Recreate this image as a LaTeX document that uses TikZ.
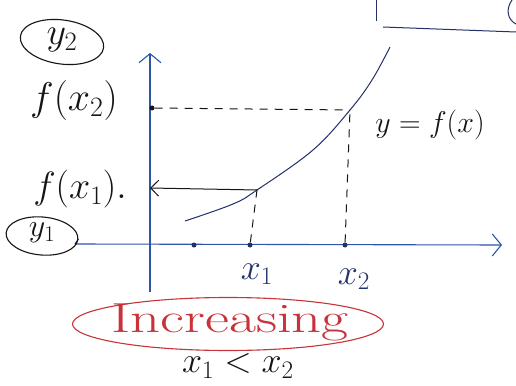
\RequirePackage{fix-cm}
\documentclass[tikz,border=0pt]{standalone}
\usetikzlibrary{arrows.meta,shapes.geometric}
\definecolor{axisblue}{HTML}{2D55A8}
\definecolor{curveblue}{HTML}{23306A}
\definecolor{inkred}{HTML}{C8333A}
\definecolor{ink}{HTML}{151515}
\tikzset{
  axis/.style={draw=axisblue, line width=1.1pt, -{Straight Barb[length=9pt,width=22pt]}},
  curve/.style={draw=curveblue, line width=1pt},
  guide/.style={draw=ink, line width=1pt, dash pattern=on 8pt off 7pt},
  label/.style={text=ink, inner sep=0pt},
  circled/.style={draw=ink, line width=1.1pt, ellipse},
  pt/.style={circle, fill=curveblue, inner sep=0pt, minimum size=5pt},
  fs/.style={font=\fontsize{#1}{#1}\selectfont},
}
\begin{document}
\begin{tikzpicture}[x=1pt,y=-1pt]
\useasboundingbox[fill=white] (0,0) rectangle (516,385);
% axes
\coordinate (ybot) at (150,292);
\coordinate (ytop) at (150,53);
\coordinate (xleft) at (75,244);
\coordinate (xright) at (502,245);
\draw[axis] (ybot) -- (ytop);
\draw[axis] (xleft) -- (xright);
% points on x axis
\node[pt] (p0) at (194,245) {};
\node[pt] (p1) at (250,245) {};
\node[pt] (p2) at (345,245) {};
\node[pt,fill=ink] (q2) at (152,108) {};
% curve
\coordinate (A) at (257,190);
\coordinate (B) at (350,110);
\draw[curve] plot[smooth, tension=0.6] coordinates {(185,221) (233,204) (A) (313,150) (B) (372,80) (390,47)};
% guides
\draw[guide] (q2) -- (B);
\draw[guide] (p2) -- (B);
\draw[guide] (p1) -- (A);
\coordinate (fa) at (150,188);
\draw[draw=ink, line width=1pt, -{Straight Barb[length=8pt,width=16pt]}] (A) -- (fa);
% labels
\node[circled, minimum width=84pt, minimum height=44pt, rotate=-8] (y2) at (62,42) {};
\node[label, fs=38] (y2t) at (62,40) {$y_2$};
\node[label, fs=40] (fx2) at (74,101) {$f(x_2)$};
\node[label, fs=38] (fx1) at (80,189) {$f(x_1).$};
\node[circled, minimum width=72pt, minimum height=38pt, rotate=-5] (y1) at (42,236) {};
\node[label, fs=32] (y1t) at (42,233) {$y_1$};
\draw[draw=ink, line width=1pt] (y1.east) -- (xleft);
\node[label, fs=30] (yf) at (430,125) {$y=f(x)$};
\node[label, fs=36, text=curveblue] (x1) at (257,274) {$x_1$};
\node[label, fs=36, text=curveblue] (x2) at (354,279) {$x_2$};
\node[draw=inkred, line width=1.1pt, ellipse, minimum width=311pt, minimum height=53pt] (inc) at (228,324) {};
\node[text=inkred, inner sep=0pt, fs=42, xscale=1.4, transform shape] (inct) at (230,322) {Increasing};
\node[label, fs=36] (ineq) at (238,366) {$x_1 < x_2$};
% partial marks at the top right
\coordinate (v0) at (376,0);
\coordinate (v1) at (376,21);
\coordinate (h0) at (383,27);
\coordinate (h1) at (516,32);
\coordinate (r0) at (512,0);
\coordinate (r1) at (516,24);
\draw[curve] (v0) -- (v1);
\draw[curve] (h0) -- (h1);
\draw[curve] (r0) .. controls (505,10) and (508,20) .. (r1);
\end{tikzpicture}
\end{document}
